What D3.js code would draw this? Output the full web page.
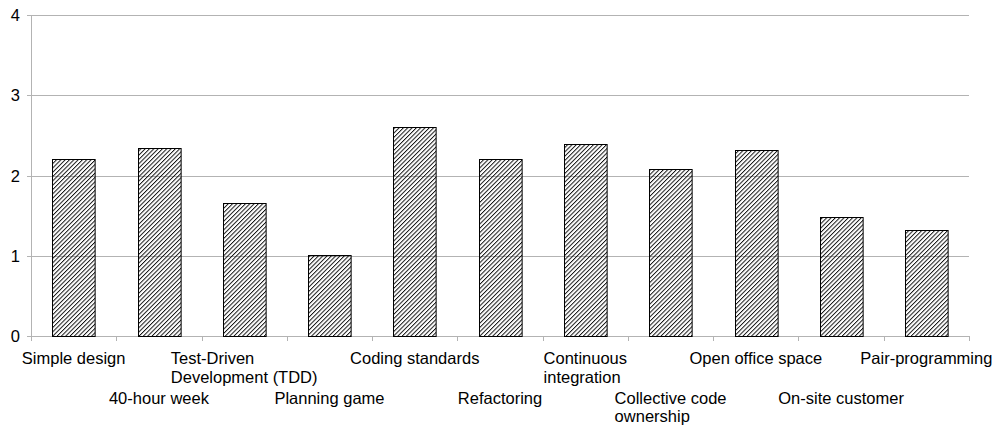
<!DOCTYPE html>
<html>
<head>
<meta charset="utf-8">
<script src="https://cdn.jsdelivr.net/npm/d3@7"></script>
<style>
  body { margin: 0; background: #fff; }
  text { font-family: "Liberation Sans", Arial, sans-serif; font-size: 16.5px; fill: #000; }
</style>
</head>
<body>
<div id="chart"></div>
<script>
const practices = [
  ["Simple design"],
  ["40-hour week"],
  ["Test-Driven", "Development (TDD)"],
  ["Planning game"],
  ["Coding standards"],
  ["Refactoring"],
  ["Continuous", "integration"],
  ["Collective code", "ownership"],
  ["Open office space"],
  ["On-site customer"],
  ["Pair-programming"]
];
const scores = [2.2, 2.34, 1.66, 1.01, 2.6, 2.2, 2.39, 2.08, 2.32, 1.48, 1.32];
const yTicks = [0, 1, 2, 3, 4];

const W = 998, H = 429;
const plotL = 31, plotR = 969, plotT = 15, plotB = 336;

const svg = d3.select("#chart").append("svg")
  .attr("width", W).attr("height", H);

// diagonal hatch
svg.append("defs").append("pattern")
  .attr("id", "hatch")
  .attr("patternUnits", "userSpaceOnUse")
  .attr("width", 3.05).attr("height", 3.05)
  .attr("patternTransform", "rotate(45)")
  .append("line")
  .attr("x1", 0.5).attr("y1", 0).attr("x2", 0.5).attr("y2", 3.05)
  .attr("stroke", "#000").attr("stroke-width", 0.9);

const x = d3.scaleBand()
  .domain(d3.range(practices.length))
  .range([plotL, plotR])
  .paddingInner(0.5).paddingOuter(0.25);

const y = d3.scaleLinear().domain([0, 4]).range([plotB, plotT]);

const grey = "#b3b3b3";

// grid
svg.append("g").selectAll("line").data(yTicks).join("line")
  .attr("x1", plotL - 4).attr("x2", plotR)
  .attr("y1", d => Math.round(y(d)) + 0.5).attr("y2", d => Math.round(y(d)) + 0.5)
  .attr("stroke", grey);

// y axis line
svg.append("line")
  .attr("x1", plotL + 0.5).attr("x2", plotL + 0.5)
  .attr("y1", plotT).attr("y2", plotB + 5)
  .attr("stroke", grey);

// x category ticks at band boundaries
const step = x.step();
svg.append("g").selectAll("line").data(d3.range(practices.length + 1)).join("line")
  .attr("x1", i => Math.round(plotL + i * step) + 0.5)
  .attr("x2", i => Math.round(plotL + i * step) + 0.5)
  .attr("y1", plotB).attr("y2", plotB + 5)
  .attr("stroke", grey);

// y labels
svg.append("g").selectAll("text").data(yTicks).join("text")
  .attr("x", 20).attr("y", d => y(d) + 6)
  .attr("text-anchor", "end")
  .text(d => d);

// bars
svg.append("g").selectAll("rect").data(scores).join("rect")
  .attr("x", (d, i) => Math.round(x(i)) + 0.5)
  .attr("y", d => Math.round(y(d)) + 0.5)
  .attr("width", x.bandwidth())
  .attr("height", d => Math.round(y(0)) - Math.round(y(d)))
  .attr("fill", "url(#hatch)")
  .attr("stroke", "#000").attr("stroke-width", 1);

// category labels, staggered in two rows; wrapped lines are left aligned in a centred block
const lineH = 18.5;
svg.append("g").selectAll("text").data(practices).join("text")
  .attr("text-anchor", "start")
  .attr("transform", (d, i) => `translate(${x(i) + x.bandwidth() / 2},${i % 2 ? 403.5 : 364})`)
  .each(function(lines) {
    const t = d3.select(this);
    const spans = t.selectAll("tspan").data(lines).join("tspan")
      .attr("y", (l, k) => k * lineH)
      .text(l => l);
    const w = d3.max(spans.nodes(), n => n.getComputedTextLength());
    spans.attr("x", -w / 2);
  });
</script>
</body>
</html>
